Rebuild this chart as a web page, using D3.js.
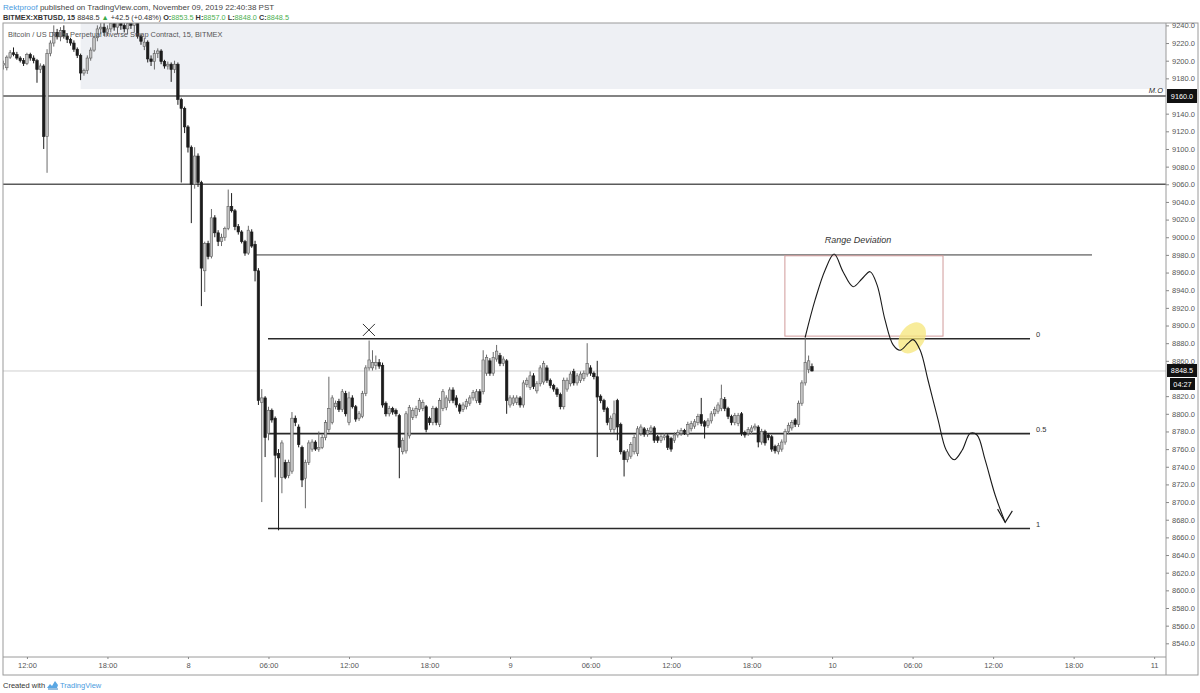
<!DOCTYPE html>
<html><head><meta charset="utf-8">
<script src="https://cdn.jsdelivr.net/npm/d3@7"></script>
<style>
html,body{margin:0;padding:0;background:#fff;}
svg{display:block;font-family:"Liberation Sans",Arial,sans-serif;}
</style></head><body>
<svg id="chart" width="1200" height="693"></svg>
<script>
// ---------- DATA ----------
const startTime = "2019-11-07T10:15";
const stepMinutes = 15;
// [open, high, low, close] per 15-minute candle
const ohlc = [
[9195,9200,9190,9197],[9192,9206,9189,9204],[9204,9212,9202,9209],[9209,9215,9205,9207],[9207,9210,9201,9203],
[9203,9205,9198,9200],[9200,9203,9194,9197],[9197,9209,9195,9207],[9207,9209,9200,9203],[9203,9206,9197,9200],
[9200,9202,9175,9190],[9190,9197,9186,9194],[9194,9196,9100,9114],[9114,9213,9073,9208],[9208,9223,9205,9220],
[9220,9240,9216,9232],[9232,9236,9224,9227],[9227,9238,9222,9234],[9234,9240,9225,9228],[9228,9231,9220,9224],
[9224,9226,9217,9220],[9220,9223,9210,9213],[9213,9215,9203,9206],[9206,9208,9178,9186],[9186,9191,9183,9189],
[9189,9206,9185,9203],[9203,9215,9200,9212],[9212,9228,9210,9226],[9226,9240,9222,9236],[9236,9243,9230,9238],
[9238,9245,9228,9232],[9232,9240,9228,9236],[9236,9248,9232,9242],[9242,9248,9234,9238],[9238,9246,9230,9243],
[9243,9248,9235,9240],[9240,9247,9232,9236],[9236,9245,9230,9242],[9242,9248,9236,9240],[9240,9246,9232,9244],
[9244,9248,9225,9228],[9228,9230,9218,9222],[9216,9226,9212,9221],[9221,9223,9198,9202],[9202,9206,9194,9199],
[9199,9212,9190,9208],[9208,9214,9203,9211],[9211,9213,9196,9199],[9199,9201,9191,9194],[9194,9199,9190,9196],
[9196,9198,9176,9190],[9190,9200,9186,9196],[9196,9198,9150,9156],[9156,9158,9062,9146],[9146,9148,9118,9125],
[9125,9127,9096,9102],[9102,9104,9016,9060],[9060,9102,9055,9092],[9092,9095,9057,9062],[9062,9064,8922,8965],
[8962,8995,8938,8993],[8993,8996,8975,8978],[8978,9032,8976,9022],[9022,9025,9000,9005],[9005,9008,8990,8995],
[8995,9004,8990,9000],[9000,9012,8996,9010],[9010,9054,9008,9035],[9035,9050,9028,9030],[9030,9032,9008,9012],
[9012,9015,9003,9006],[9006,9008,8993,8995],[8995,8997,8979,8982],[8982,9013,8980,9008],[9006,9009,8988,8990],
[8992,8996,8950,8962],[8962,8965,8810,8815],[8813,8828,8700,8818],[8818,8820,8751,8773],[8778,8808,8770,8804],
[8804,8806,8790,8793],[8795,8797,8728,8753],[8755,8760,8668,8750],[8728,8770,8710,8767],[8745,8748,8726,8728],
[8730,8748,8727,8745],[8735,8802,8732,8795],[8795,8798,8786,8790],[8785,8788,8762,8765],[8762,8764,8717,8725],
[8727,8748,8693,8745],[8745,8770,8742,8767],[8760,8771,8757,8768],[8768,8770,8758,8760],[8760,8780,8757,8762],
[8762,8776,8760,8773],[8773,8793,8770,8790],[8782,8842,8779,8806],[8790,8821,8788,8818],[8808,8815,8805,8812],
[8814,8817,8802,8805],[8805,8828,8802,8825],[8823,8826,8797,8800],[8790,8825,8787,8818],[8818,8821,8806,8808],
[8808,8810,8791,8794],[8795,8803,8792,8800],[8797,8826,8795,8823],[8823,8855,8820,8852],[8852,8883,8849,8861],
[8852,8872,8849,8858],[8855,8866,8850,8858],[8858,8862,8851,8854],[8855,8858,8807,8810],[8812,8814,8797,8800],
[8800,8809,8797,8806],[8806,8808,8799,8802],[8804,8806,8797,8800],[8798,8800,8727,8762],[8757,8773,8754,8770],
[8758,8803,8755,8800],[8775,8810,8772,8807],[8796,8807,8793,8804],[8798,8809,8795,8806],[8805,8818,8802,8815],
[8806,8816,8803,8813],[8808,8810,8779,8782],[8795,8797,8787,8790],[8790,8809,8787,8806],[8806,8808,8787,8790],
[8788,8818,8785,8815],[8806,8828,8803,8825],[8807,8821,8804,8818],[8815,8830,8812,8827],[8827,8830,8812,8815],
[8818,8821,8807,8810],[8810,8812,8800,8803],[8805,8813,8802,8810],[8808,8817,8805,8814],[8812,8821,8809,8818],
[8818,8827,8815,8824],[8815,8828,8812,8825],[8825,8828,8810,8813],[8825,8872,8822,8861],[8846,8867,8843,8864],
[8860,8863,8843,8846],[8846,8870,8843,8864],[8862,8878,8859,8871],[8866,8869,8854,8857],[8857,8865,8854,8862],
[8860,8862,8800,8815],[8810,8821,8807,8818],[8812,8821,8809,8818],[8813,8821,8810,8818],[8818,8820,8807,8810],
[8810,8838,8807,8835],[8833,8841,8830,8838],[8830,8848,8827,8843],[8843,8846,8828,8831],[8826,8837,8823,8834],
[8834,8855,8831,8852],[8836,8860,8833,8857],[8852,8855,8835,8838],[8838,8840,8829,8832],[8832,8834,8825,8828],
[8828,8830,8819,8822],[8822,8824,8805,8808],[8808,8841,8805,8838],[8828,8841,8825,8838],[8834,8848,8831,8845],
[8848,8851,8832,8835],[8835,8846,8832,8843],[8838,8848,8835,8845],[8840,8849,8837,8846],[8845,8880,8842,8857],
[8852,8855,8843,8846],[8846,8848,8839,8842],[8842,8860,8751,8819],[8820,8822,8812,8815],[8815,8817,8802,8805],
[8806,8808,8787,8790],[8782,8798,8779,8795],[8782,8815,8778,8800],[8815,8817,8770,8785],[8788,8790,8754,8757],
[8757,8759,8729,8748],[8748,8760,8745,8757],[8752,8768,8749,8765],[8757,8776,8754,8773],[8755,8786,8752,8783],
[8778,8788,8775,8785],[8783,8785,8774,8777],[8777,8784,8774,8781],[8780,8787,8777,8784],[8784,8786,8767,8770],
[8774,8776,8767,8770],[8770,8777,8767,8774],[8773,8778,8770,8775],[8775,8777,8759,8762],[8772,8774,8757,8760],
[8770,8779,8767,8776],[8776,8782,8773,8779],[8778,8784,8775,8781],[8781,8783,8776,8779],[8777,8791,8774,8788],
[8783,8792,8780,8789],[8786,8794,8783,8791],[8790,8800,8787,8797],[8799,8818,8786,8789],[8791,8793,8772,8786],
[8787,8795,8784,8792],[8792,8803,8789,8800],[8800,8808,8797,8805],[8803,8813,8800,8810],[8806,8833,8803,8817],
[8816,8819,8803,8806],[8806,8808,8794,8797],[8797,8799,8787,8790],[8790,8801,8787,8798],[8789,8801,8786,8798],
[8800,8802,8775,8778],[8779,8781,8773,8776],[8778,8785,8775,8782],[8780,8787,8777,8784],[8784,8789,8781,8786],
[8785,8787,8762,8768],[8768,8783,8765,8780],[8780,8782,8764,8767],[8776,8778,8770,8773],[8774,8776,8757,8760],
[8763,8765,8755,8758],[8757,8767,8754,8764],[8760,8771,8757,8768],[8768,8783,8765,8780],[8780,8790,8777,8787],
[8784,8793,8781,8790],[8793,8795,8785,8788],[8788,8815,8785,8812],[8812,8838,8809,8835],[8835,8888,8832,8858],
[8850,8866,8846,8860],[8853.5,8857,8848,8848.5]
];

const lastPrice = 8848.5;
const fullWidthLevels = [9160, 9060];
const moLabel = "M.O";
const shadeStart = "2019-11-07T16:00";
const shadeBottom = 9168;
const rangeDevLevel = 8980;
const rangeDevSpan = ["2019-11-08T05:00", "2019-11-10T19:22"];
const fibLevels = [8885, 8777.5, 8670];
const fibLabels = ["0", "0.5", "1"];
const fibSpan = ["2019-11-08T05:58", "2019-11-10T14:45"];
const fibLabelTime = "2019-11-10T15:12";
const deviationBox = { t: ["2019-11-09T20:29", "2019-11-10T08:16"], p: [8979, 8888] };
const deviationText = { t: "2019-11-10T01:56", p: 8993, text: "Range Deviation" };
const crossMark = { t: "2019-11-08T13:29", p: 8895 };
const highlight = { t: "2019-11-10T05:58", p: 8886 };
const drawnPath = [
 ["2019-11-09T22:00",8887],["2019-11-09T22:44",8929],["2019-11-09T23:29",8963],["2019-11-10T00:09",8981],
 ["2019-11-10T00:49",8961],["2019-11-10T01:34",8944],["2019-11-10T02:14",8953],["2019-11-10T02:50",8961],
 ["2019-11-10T03:21",8946],["2019-11-10T03:57",8906],["2019-11-10T04:33",8878],["2019-11-10T05:04",8872],
 ["2019-11-10T05:40",8880],["2019-11-10T06:02",8884],["2019-11-10T06:34",8872],["2019-11-10T07:09",8838],
 ["2019-11-10T07:54",8793],["2019-11-10T08:30",8759],["2019-11-10T09:06",8748],["2019-11-10T09:42",8759],
 ["2019-11-10T10:18",8778],["2019-11-10T10:48",8776],["2019-11-10T11:24",8748],["2019-11-10T12:09",8708],
 ["2019-11-10T12:54",8677]
];
const arrowHead = [["2019-11-10T12:20",8692],["2019-11-10T12:54",8677],["2019-11-10T13:26",8690]];
// axis labels (9160 and 8840 are covered by the price tags, as in the reference)
const priceTicks = [8540,8560,8580,8600,8620,8640,8660,8680,8700,8720,8740,8760,8780,8800,8820,8860,8880,8900,
 8920,8940,8960,8980,9000,9020,9040,9060,9080,9100,9120,9140,9180,9200,9220,9240];
const timeTicks = ["2019-11-07T12:00","2019-11-07T18:00","2019-11-08T00:00","2019-11-08T06:00","2019-11-08T12:00",
 "2019-11-08T18:00","2019-11-09T00:00","2019-11-09T06:00","2019-11-09T12:00","2019-11-09T18:00","2019-11-10T00:00",
 "2019-11-10T06:00","2019-11-10T12:00","2019-11-10T18:00","2019-11-11T00:00"];
const countdown = "04:27";

// ---------- LAYOUT ----------
const pL = 3, pR = 1166, pT = 23, pB = 657, axB = 675, axR = 1198;
const parse = d3.utcParse("%Y-%m-%dT%H:%M");
const svg = d3.select("#chart");

const x = d3.scaleTime()
  .domain([parse("2019-11-07T10:13"), parse("2019-11-11T00:53")])
  .range([pL, pR]);
const y = d3.scaleLinear().domain([8524.5, 9242.7]).range([pB, pT]);

const defs = svg.append("defs");
defs.append("clipPath").attr("id","pane").append("rect")
  .attr("x",pL).attr("y",pT).attr("width",pR-pL).attr("height",pB-pT);
defs.append("clipPath").attr("id","axisclip").append("rect")
  .attr("x",pR).attr("y",pT).attr("width",axR-pR).attr("height",pB-pT);

// header
const head1 = svg.append("text").attr("x",3).attr("y",9.5).attr("font-size",8).attr("fill","#444");
head1.append("tspan").attr("fill","#4a9be0").text("Rektproof");
head1.append("tspan").text(" published on TradingView.com, November 09, 2019 22:40:38 PST");
const head2 = svg.append("text").attr("x",3).attr("y",19.5).attr("font-size",7.3).attr("fill","#333");
head2.append("tspan").attr("font-weight","bold").text("BITMEX:XBTUSD, 15");
head2.append("tspan").text(" 8848.5 ");
head2.append("tspan").attr("fill","#3caa4a").text("▲");
head2.append("tspan").text(" +42.5 (+0.48%) ");
[["O:","8853.5"],["H:","8857.0"],["L:","8848.0"],["C:","8848.5"]].forEach((d,i)=>{
  head2.append("tspan").attr("font-weight","bold").text((i?" ":"")+d[0]);
  head2.append("tspan").attr("fill","#4caf50").text(d[1]);
});

const pane = svg.append("g").attr("clip-path","url(#pane)");

// shaded zone
pane.append("rect")
  .attr("x", x(parse(shadeStart))).attr("y", pT)
  .attr("width", pR - x(parse(shadeStart))).attr("height", y(shadeBottom) - pT)
  .attr("fill","#eef0f4");

// current price line
pane.append("line").attr("x1",pL).attr("x2",pR).attr("y1",y(lastPrice)).attr("y2",y(lastPrice))
  .attr("stroke","#cfcfcf").attr("stroke-width",1);

// full-width levels
pane.selectAll("line.lvl").data(fullWidthLevels).enter().append("line")
  .attr("x1",pL).attr("x2",pR).attr("y1",d=>y(d)).attr("y2",d=>y(d))
  .attr("stroke","#5a5a5a").attr("stroke-width",1.6);

// range deviation level
pane.append("line")
  .attr("x1",x(parse(rangeDevSpan[0]))).attr("x2",x(parse(rangeDevSpan[1])))
  .attr("y1",y(rangeDevLevel)).attr("y2",y(rangeDevLevel))
  .attr("stroke","#8c8c8c").attr("stroke-width",1.6);

// fib levels
pane.selectAll("line.fib").data(fibLevels).enter().append("line")
  .attr("x1",x(parse(fibSpan[0]))).attr("x2",x(parse(fibSpan[1])))
  .attr("y1",d=>y(d)).attr("y2",d=>y(d))
  .attr("stroke","#2a2a2a").attr("stroke-width",1.6);
pane.selectAll("text.fib").data(fibLevels).enter().append("text")
  .attr("x",x(parse(fibLabelTime))).attr("y",d=>y(d)-1.5)
  .attr("font-size",7.5).attr("fill","#333").text((d,i)=>fibLabels[i]);

// deviation box
pane.append("rect")
  .attr("x",x(parse(deviationBox.t[0]))).attr("y",y(deviationBox.p[0]))
  .attr("width",x(parse(deviationBox.t[1]))-x(parse(deviationBox.t[0])))
  .attr("height",y(deviationBox.p[1])-y(deviationBox.p[0]))
  .attr("fill","none").attr("stroke","#d09a9a").attr("stroke-width",1);

// highlight ellipse
pane.append("ellipse")
  .attr("transform",`translate(${x(parse(highlight.t))},${y(highlight.p)}) rotate(-55)`)
  .attr("rx",17).attr("ry",12).attr("fill","#f6e57a").attr("opacity",0.75);

// candles
const t0 = parse(startTime).getTime();
const candles = ohlc.map((d,i)=>({t:new Date(t0+i*stepMinutes*60000),o:d[0],h:d[1],l:d[2],c:d[3]}));
const cg = pane.append("g");
const bw = 2.5;
cg.selectAll("line.wick").data(candles).enter().append("line")
  .attr("x1",d=>x(d.t)).attr("x2",d=>x(d.t))
  .attr("y1",d=>y(d.h)).attr("y2",d=>y(d.l))
  .attr("stroke",d=>d.c>=d.o?"#6a6a6a":"#1c1c1c").attr("stroke-width",1);
cg.selectAll("rect.body").data(candles).enter().append("rect")
  .attr("x",d=>x(d.t)-bw/2)
  .attr("y",d=>y(Math.max(d.o,d.c)))
  .attr("width",bw)
  .attr("height",d=>Math.max(1,y(Math.min(d.o,d.c))-y(Math.max(d.o,d.c))))
  .attr("fill",d=>d.c>=d.o?"#c4c4c4":"#1c1c1c")
  .attr("stroke",d=>d.c>=d.o?"#5e5e5e":"#1c1c1c").attr("stroke-width",0.6);

// title inside pane (drawn over candles as in the reference)
svg.append("text").attr("x",8).attr("y",37).attr("font-size",7.4).attr("fill","#555")
  .text("Bitcoin / US Dollar Perpetual Inverse Swap Contract, 15, BITMEX");

// drawn path
const line = d3.line().x(d=>x(parse(d[0]))).y(d=>y(d[1])).curve(d3.curveCatmullRom.alpha(0.5));
pane.append("path").attr("d",line(drawnPath)).attr("fill","none").attr("stroke","#1a1a1a").attr("stroke-width",1.1);
pane.append("path").attr("d",d3.line().x(d=>x(parse(d[0]))).y(d=>y(d[1]))(arrowHead))
  .attr("fill","none").attr("stroke","#1a1a1a").attr("stroke-width",1.1);

// range deviation text
pane.append("text").attr("x",x(parse(deviationText.t))).attr("y",y(deviationText.p))
  .attr("text-anchor","middle").attr("font-size",9).attr("font-style","italic").attr("fill","#333")
  .text(deviationText.text);

// X mark
const cx = x(parse(crossMark.t)), cy = y(crossMark.p);
pane.append("path").attr("d",`M${cx-6},${cy-6}L${cx+6},${cy+6}M${cx+6},${cy-6}L${cx-6},${cy+6}`)
  .attr("stroke","#333").attr("stroke-width",1);

// M.O label
svg.append("text").attr("x",pR-3).attr("y",y(fullWidthLevels[0])-3).attr("text-anchor","end")
  .attr("font-size",7.5).attr("font-style","italic").attr("fill","#333").text(moLabel);

// frame
svg.append("rect").attr("x",pL).attr("y",pT).attr("width",axR-pL).attr("height",axB-pT)
  .attr("fill","none").attr("stroke","#9a9a9a").attr("stroke-width",1);
svg.append("line").attr("x1",pR).attr("x2",pR).attr("y1",pT).attr("y2",axB).attr("stroke","#9a9a9a");
svg.append("line").attr("x1",pL).attr("x2",pR).attr("y1",pB).attr("y2",pB).attr("stroke","#9a9a9a");

// y axis (clipped to the pane height)
const yAxisOuter = svg.append("g").attr("clip-path","url(#axisclip)");
const yAxisG = yAxisOuter.append("g").attr("transform",`translate(${pR},0)`);
yAxisG.call(d3.axisRight(y).tickValues(priceTicks).tickSize(3).tickFormat(d3.format(".1f")));
yAxisG.select(".domain").remove();
yAxisG.selectAll(".tick line").attr("stroke","#888");
yAxisG.selectAll(".tick text").attr("font-size",7.5).attr("fill","#555")
  .attr("font-family","Liberation Sans, Arial, sans-serif").attr("x",6);

// x axis
const xAxisG = svg.append("g").attr("transform",`translate(0,${pB})`);
const fmt = d => d.getUTCHours()===0 ? String(d.getUTCDate()) : d3.utcFormat("%H:%M")(d);
xAxisG.call(d3.axisBottom(x).tickValues(timeTicks.map(parse)).tickSize(2).tickFormat(fmt));
xAxisG.select(".domain").remove();
xAxisG.selectAll(".tick line").attr("stroke","#888");
xAxisG.selectAll(".tick text").attr("font-size",7.5).attr("fill","#555")
  .attr("font-family","Liberation Sans, Arial, sans-serif").attr("y",6);

// price tags
function tag(txt, yy, h, x0, w){
  svg.append("rect").attr("x",x0).attr("y",yy).attr("width",w).attr("height",h).attr("fill","#111");
  svg.append("text").attr("x",x0+w/2).attr("y",yy+h/2).attr("dy","0.35em").attr("text-anchor","middle")
    .attr("font-size",7.3).attr("fill","#fff").text(txt);
}
tag("9160.0", y(9160)-7, 14, pR+1, 30);
tag(d3.format(".1f")(lastPrice), y(lastPrice)-7, 13, pR+1, 30);
tag(countdown, y(lastPrice)+7, 12, pR+4, 25);

// footer
svg.append("text").attr("x",3).attr("y",688).attr("font-size",7.5).attr("fill","#333").text("Created with");
const lg = svg.append("g").attr("transform","translate(47,681)");
lg.append("path").attr("d","M0,7 L3,3 L5,5 L8,0 L11,4 L10,7 Z").attr("fill","#5aa7e3");
lg.append("path").attr("d","M1,8 L11,8").attr("stroke","#2e7fc2").attr("stroke-width",1);
svg.append("text").attr("x",60).attr("y",688).attr("font-size",7.5).attr("fill","#4a9be0").text("TradingView");
</script>
</body></html>
